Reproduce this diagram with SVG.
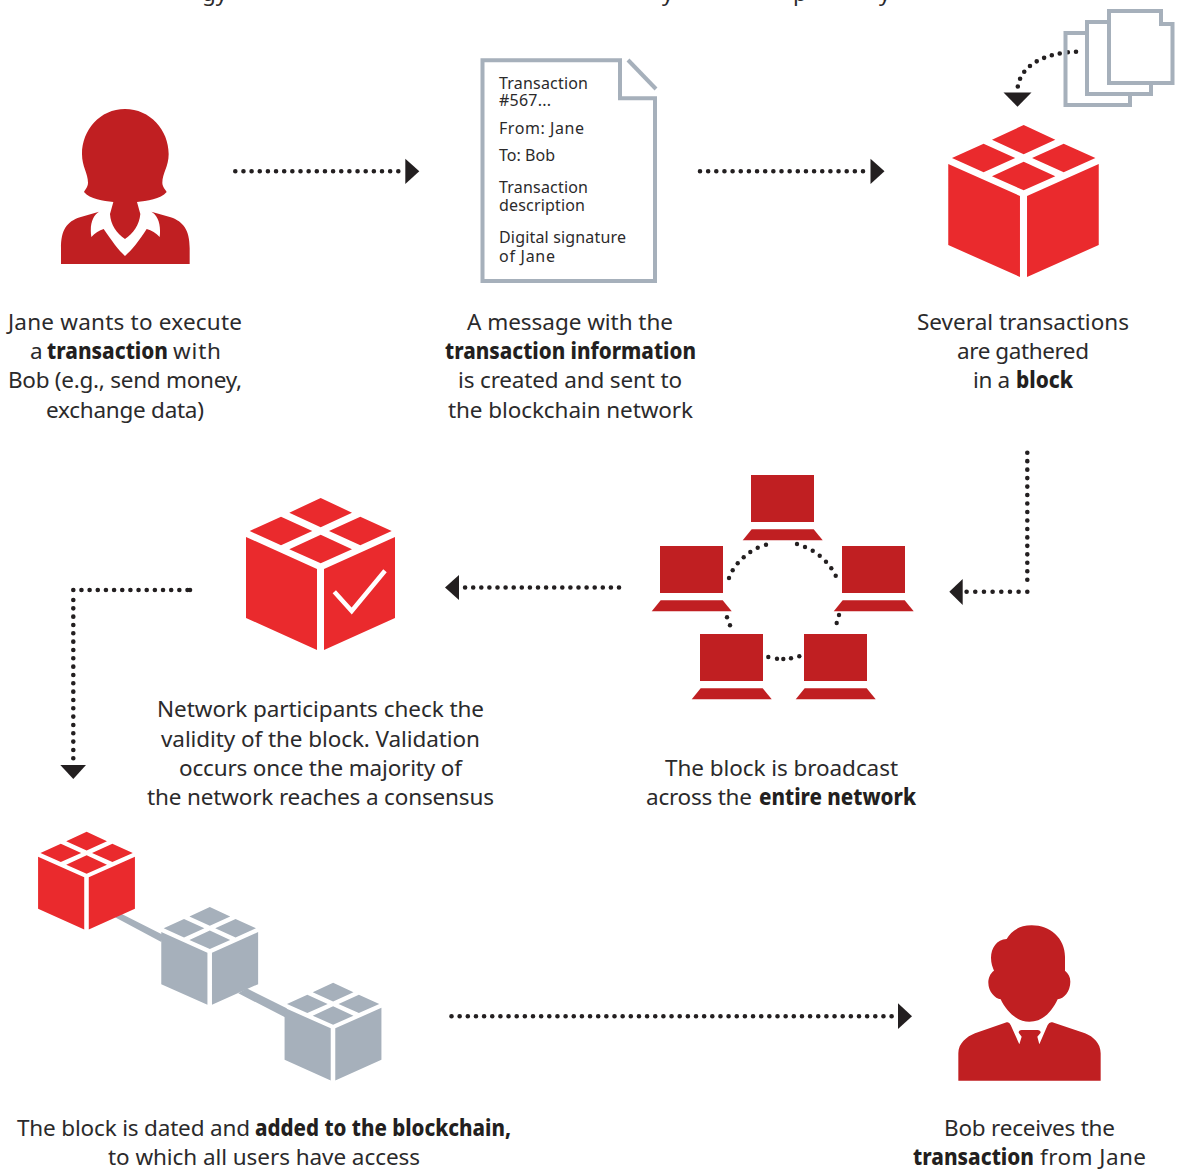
<svg xmlns="http://www.w3.org/2000/svg" width="1179" height="1169" viewBox="0 0 1179 1169">
<style>
text{font-family:"Noto Sans","Liberation Sans",sans-serif;fill:#2b2a2b}
.cap{font-size:22.5px}
.b{font-weight:800;fill:#231f20}
.doc{font-size:16px}
.person,.lap{fill:#c01f22}
.red{fill:#ea2a2d}
.gray{fill:#a6b0bb}
.sheet{fill:none;stroke:#a6b0bb;stroke-width:4}
.dots{fill:none;stroke:#231f20;stroke-width:4.6;stroke-linecap:round;stroke-dasharray:0 8.15}
.head{fill:#231f20}
.ring{fill:#231f20}
</style>
<defs>
<g id="cube">
<path d="M.2 0 31.5 14.7.2 29.3-31.2 14.7ZM-39.5 18.7-8.2 33-39.5 47.3-70.8 33ZM39.8 18.7 71.2 33 39.8 47.3 8.5 33ZM.2 36.7 31.5 51.3.2 65.3-31.2 51.3ZM-74.5 39-3.5 71V152L-74.5 120ZM3.5 71 74.5 39V120L3.5 152Z"/>
</g>
<g id="laptop">
<rect x="0" y="0" width="63" height="47"/>
<path d="M.7 54.3H62.7L71.7 65.3H-8.3Z"/>
</g>
</defs>

<g id="clipped-title">
<text class="cap" x="202" y="1">gy</text>
<text class="cap" x="662" y="1">y</text>
<text class="cap" x="793" y="1">p</text>
<text class="cap" x="879" y="1">y</text>
</g>

<g id="connectors">
<path class="dots" d="M235.3 171.3H402"/>
<path class="head" d="M405.3 158.7 419.3 171.3 405.3 184Z"/>
<path class="dots" d="M700 171.3H866"/>
<path class="head" d="M870.5 158.7 884.5 171.3 870.5 184Z"/>
<path class="dots" d="M1076 51.7C1045 53 1019 65 1017.4 90"/>
<path class="head" d="M1003.5 92.5H1031.5L1017.5 106.7Z"/>
<path class="dots" style="stroke-dasharray:0 8.47" d="M1027.3 452.7V588"/>
<path class="dots" style="stroke-dasharray:0 8.67" d="M1027.3 591.7H966"/>
<path class="head" d="M949.3 591.7 962.7 579V605Z"/>
<path class="dots" style="stroke-dasharray:0 8.1" d="M619 587.5H464.5"/>
<path class="head" d="M445 587.5 459 575V600Z"/>
<path class="dots" style="stroke-dasharray:0 8.157" d="M187.5 590H73.2"/>
<path class="dots" style="stroke-dasharray:0 9" d="M190 590H190.5"/>
<path class="dots" style="stroke-dasharray:0 8.33" d="M73.3 600V761"/>
<path class="head" d="M60.3 765H86L73.3 779Z"/>
<path class="dots" d="M451.5 1016.3H893"/>
<path class="head" d="M898 1003.3 912 1016.3 898 1029Z"/>
<g class="ring">
<circle cx="729" cy="578" r="2.2"/><circle cx="732.7" cy="570.3" r="2.2"/><circle cx="737.7" cy="563.3" r="2.2"/><circle cx="743.7" cy="557.3" r="2.2"/><circle cx="750.3" cy="552" r="2.2"/><circle cx="757.7" cy="547.7" r="2.2"/><circle cx="766" cy="544.7" r="2.2"/>
<circle cx="797" cy="544" r="2.2"/><circle cx="805" cy="547" r="2.2"/><circle cx="812.7" cy="550.7" r="2.2"/><circle cx="819.7" cy="555.7" r="2.2"/><circle cx="826" cy="561.7" r="2.2"/><circle cx="831.3" cy="568.3" r="2.2"/><circle cx="835.7" cy="575.7" r="2.2"/>
<circle cx="727" cy="617.3" r="2.2"/><circle cx="730" cy="625.3" r="2.2"/>
<circle cx="839" cy="615" r="2.2"/><circle cx="836.7" cy="623" r="2.2"/>
<circle cx="768.3" cy="657" r="2.2"/><circle cx="777" cy="658.7" r="2.2"/><circle cx="783.3" cy="659" r="2.2"/><circle cx="791" cy="658.3" r="2.2"/><circle cx="799.3" cy="656.3" r="2.2"/>
</g>
</g>

<g id="jane">
<g transform="scale(.33333)" class="person">
<path d="M375 327C300 327 246 390 246 462C246 500 264 520 264 548C264 560 256 568 252 576C270 598 310 602 340 606L330 642C332 675 350 700 375 717C400 700 418 675 421 642L411 606C440 602 482 598 500 576C496 568 487 560 487 548C487 520 506 500 506 462C506 390 450 327 375 327Z"/>
<path d="M183 792V745C183 690 200 665 240 652L297 635C280 645 268 670 274 711C285 700 298 690 311 687C335 722 355 750 375 768C395 750 418 722 440 687C455 690 468 700 479 711C484 670 472 645 454 635L512 652C550 665 569 690 569 745V792Z"/>
</g>
<text class="cap" text-anchor="middle" x="125" y="330" textLength="234">Jane wants to execute</text>
<text class="cap" x="30" y="359">a</text>
<text class="cap b" x="47" y="359" textLength="121" lengthAdjust="spacingAndGlyphs">transaction</text>
<text class="cap" x="173" y="359" textLength="48">with</text>
<text class="cap" text-anchor="middle" x="125" y="388" textLength="234">Bob (e.g., send money,</text>
<text class="cap" text-anchor="middle" x="125" y="418" textLength="158">exchange data)</text>
</g>

<g id="message">
<path class="sheet" d="M482.5 60.3H620V98.3H655V281H482.5Z"/>
<path class="sheet" d="M628 60 656 89"/>
<text class="doc" x="499" y="89" textLength="89">Transaction</text>
<text class="doc" x="499" y="106" textLength="52">#567...</text>
<text class="doc" x="499" y="134" textLength="85">From: Jane</text>
<text class="doc" x="499" y="161" textLength="56">To: Bob</text>
<text class="doc" x="499" y="193" textLength="89">Transaction</text>
<text class="doc" x="499" y="211" textLength="86">description</text>
<text class="doc" x="499" y="243" textLength="127">Digital signature</text>
<text class="doc" x="499" y="262" textLength="56">of Jane</text>
<text class="cap" text-anchor="middle" x="570" y="330" textLength="206">A message with the</text>
<text class="cap b" x="445" y="359" textLength="251" lengthAdjust="spacingAndGlyphs">transaction information</text>
<text class="cap" text-anchor="middle" x="570" y="388" textLength="224">is created and sent to</text>
<text class="cap" text-anchor="middle" x="570.5" y="418" textLength="245">the blockchain network</text>
</g>

<g id="gathered-block">
<path class="sheet" d="M1087 33H1065.5V105H1130V95"/>
<path class="sheet" d="M1109 22H1087V94H1151V83"/>
<path class="sheet" d="M1109 11H1161V24H1172.5V83H1109Z"/>
<use href="#cube" class="red" transform="translate(1023.5 125) scale(1.01 1)"/>
<text class="cap" text-anchor="middle" x="1023" y="330" textLength="212">Several transactions</text>
<text class="cap" text-anchor="middle" x="1023" y="359" textLength="132">are gathered</text>
<text class="cap" x="973" y="388" textLength="37">in a</text>
<text class="cap b" x="1016" y="388" textLength="57" lengthAdjust="spacingAndGlyphs">block</text>
</g>

<g id="network" class="lap">
<use href="#laptop" x="751" y="475"/>
<use href="#laptop" x="660" y="546"/>
<use href="#laptop" x="842" y="546"/>
<use href="#laptop" x="700" y="634"/>
<use href="#laptop" x="804" y="634"/>
<text class="cap" text-anchor="middle" x="781.5" y="776" textLength="233">The block is broadcast</text>
<text class="cap" x="646" y="805" textLength="106">across the</text>
<text class="cap b" x="759" y="805" textLength="157" lengthAdjust="spacingAndGlyphs">entire network</text>
</g>

<g id="validation">
<use href="#cube" class="red" transform="translate(320.5 498)"/>
<path d="M334.3 591.7 351.7 611 385 570.7" fill="none" stroke="#fff" stroke-width="4.5"/>
<text class="cap" text-anchor="middle" x="320.5" y="717" textLength="327">Network participants check the</text>
<text class="cap" text-anchor="middle" x="320.5" y="747" textLength="319">validity of the block. Validation</text>
<text class="cap" text-anchor="middle" x="320.5" y="776" textLength="283">occurs once the majority of</text>
<text class="cap" text-anchor="middle" x="320.5" y="805" textLength="347">the network reaches a consensus</text>
</g>

<g id="blockchain">
<path class="gray" d="M121.7 914 163.3 935 161.3 942 115 917.3ZM246.7 988.3 286.7 1008.3 285 1017.3 238.3 993.3Z"/>
<use href="#cube" class="red" transform="translate(86.5 831.7) scale(.65 .643)"/>
<use href="#cube" class="gray" transform="translate(209.7 907) scale(.65 .643)"/>
<use href="#cube" class="gray" transform="translate(333 982.7) scale(.65 .643)"/>
<text class="cap" x="17" y="1136" textLength="233">The block is dated and</text>
<text class="cap b" x="255" y="1136" textLength="256" lengthAdjust="spacingAndGlyphs">added to the blockchain,</text>
<text class="cap" text-anchor="middle" x="264" y="1165" textLength="312">to which all users have access</text>
</g>

<g id="bob">
<g transform="translate(880 910) scale(.33333)" class="person">
<path d="M455 46C415 46 392 65 380 87C350 88 333 115 333 143C333 160 338 172 342 182C330 190 325 205 325 218C325 245 345 265 362 268C380 305 410 335 448 335C490 335 515 305 533 268C552 265 571 245 571 215C571 200 565 190 555 182V140C555 85 510 46 455 46Z"/>
<path d="M235 512V430C235 400 260 380 285 370L380 337Q388 335 392 345L418 403 425 380 416 368Q416 360 425 360H472Q482 360 482 368L472 380 478 403 503 345Q508 335 517 337L615 370C640 380 662 400 662 430V512Z"/>
</g>
<text class="cap" text-anchor="middle" x="1029.5" y="1136" textLength="171">Bob receives the</text>
<text class="cap b" x="913" y="1165" textLength="121" lengthAdjust="spacingAndGlyphs">transaction</text>
<text class="cap" x="1040" y="1165" textLength="106">from Jane</text>
</g>
</svg>
